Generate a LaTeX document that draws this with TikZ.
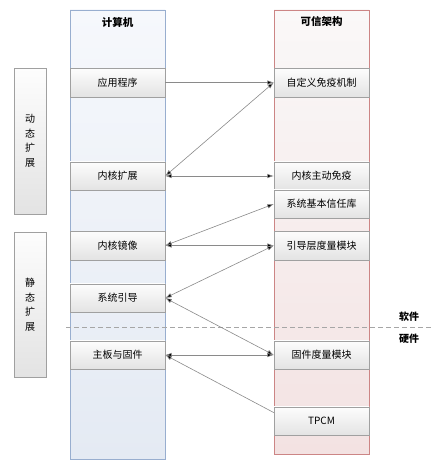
\documentclass[tikz,border=0pt]{standalone}
\usepackage{fontspec}
\setmainfont{Noto Sans CJK SC}
\usetikzlibrary{arrows.meta,shadows}

\definecolor{compline}{HTML}{98AECF}
\definecolor{comptop}{HTML}{F6F8FC}
\definecolor{compbot}{HTML}{E4EAF3}
\definecolor{trustline}{HTML}{CC8585}
\definecolor{trusttop}{HTML}{FAF8F8}
\definecolor{trustbot}{HTML}{F3E2E2}
\definecolor{boxline}{HTML}{A0A0A0}
\definecolor{boxtop}{HTML}{FDFDFD}
\definecolor{boxbot}{HTML}{E3E3E3}
\definecolor{linegray}{HTML}{8A8A8A}

\begin{document}
\begin{tikzpicture}[x=1pt,y=-1pt, >={Latex[length=6.5pt,width=4.5pt]},
                    every node/.style={font=\fontsize{10}{12}\selectfont},
                    column node/.style={rectangle,minimum width=95pt,inner sep=0pt,line width=.8pt},
                    head node/.style={font=\fontsize{10.5}{12}\selectfont\bfseries},
                    main node/.style={rectangle,draw=boxline,top color=boxtop,bottom color=boxbot,
                                      minimum width=95pt,minimum height=28.5pt,inner sep=0pt,
                                      drop shadow={shadow xshift=1pt,shadow yshift=-1pt,opacity=.2}},
                    side node/.style={rectangle,draw=boxline,top color=boxtop,bottom color=boxbot,
                                      minimum width=32pt,inner sep=0pt,align=center,
                                      font=\fontsize{10}{14.5}\selectfont,
                                      drop shadow={shadow xshift=1pt,shadow yshift=-1pt,opacity=.2}}]

  \useasboundingbox (0,0) rectangle (431,460);

  % columns
  \node[column node,draw=compline,top color=comptop,bottom color=compbot,minimum height=449pt] (comp) at (117.5,234.5) {};
  \node[column node,draw=trustline,top color=trusttop,bottom color=trustbot,minimum height=444pt] (trust) at (321.5,232) {};
  \node[head node] (comphead) at (117.5,22) {计算机};
  \node[head node] (trusthead) at (321.5,22) {可信架构};

  % side boxes
  \node[side node,minimum height=146pt] (dyn) at (30,141) {动\\态\\扩\\展};
  \node[side node,minimum height=145pt] (sta) at (30,304.5) {静\\态\\扩\\展};

  % software / hardware split
  \coordinate (swl) at (66,327);
  \coordinate (swr) at (431,327);
  \draw[gray!70,line width=.7pt,dash pattern=on 5pt off 3pt] (swl) -- (swr);
  \node[head node,font=\fontsize{10}{12}\selectfont\bfseries] (sw) at (409,317) {软件};
  \node[head node,font=\fontsize{10}{12}\selectfont\bfseries] (hw) at (409,339) {硬件};

  % computer side
  \node[main node] (app) at (117.5,82.5) {应用程序};
  \node[main node] (kext) at (117.5,176) {内核扩展};
  \node[main node] (kimg) at (117.5,245.5) {内核镜像};
  \node[main node] (boot) at (117.5,298) {系统引导};
  \node[main node] (board) at (117.5,355) {主板与固件};

  % trust side
  \node[main node] (immune) at (321.5,82.5) {自定义免疫机制};
  \node[main node] (kactive) at (321.5,176) {内核主动免疫};
  \node[main node] (trustlib) at (321.5,204) {系统基本信任库};
  \node[main node] (bootm) at (321.5,245.5) {引导层度量模块};
  \node[main node] (fwm) at (321.5,355) {固件度量模块};
  \node[main node] (tpcm) at (321.5,421) {TPCM};

  \path[draw=linegray,line width=.6pt]
    (app.east) edge[->] (immune.west)
    (kext.east) edge[<->] (immune.west)
                edge[<->] (kactive.west)
    (kimg.east) edge[<->] (trustlib.west)
                edge[<->] (bootm.west)
    (boot.east) edge[<->] (bootm.west)
                edge[<->] (fwm.west)
    (board.east) edge[<->] (fwm.west)
    (tpcm.170) edge[->] (board.east);

\end{tikzpicture}
\end{document}
